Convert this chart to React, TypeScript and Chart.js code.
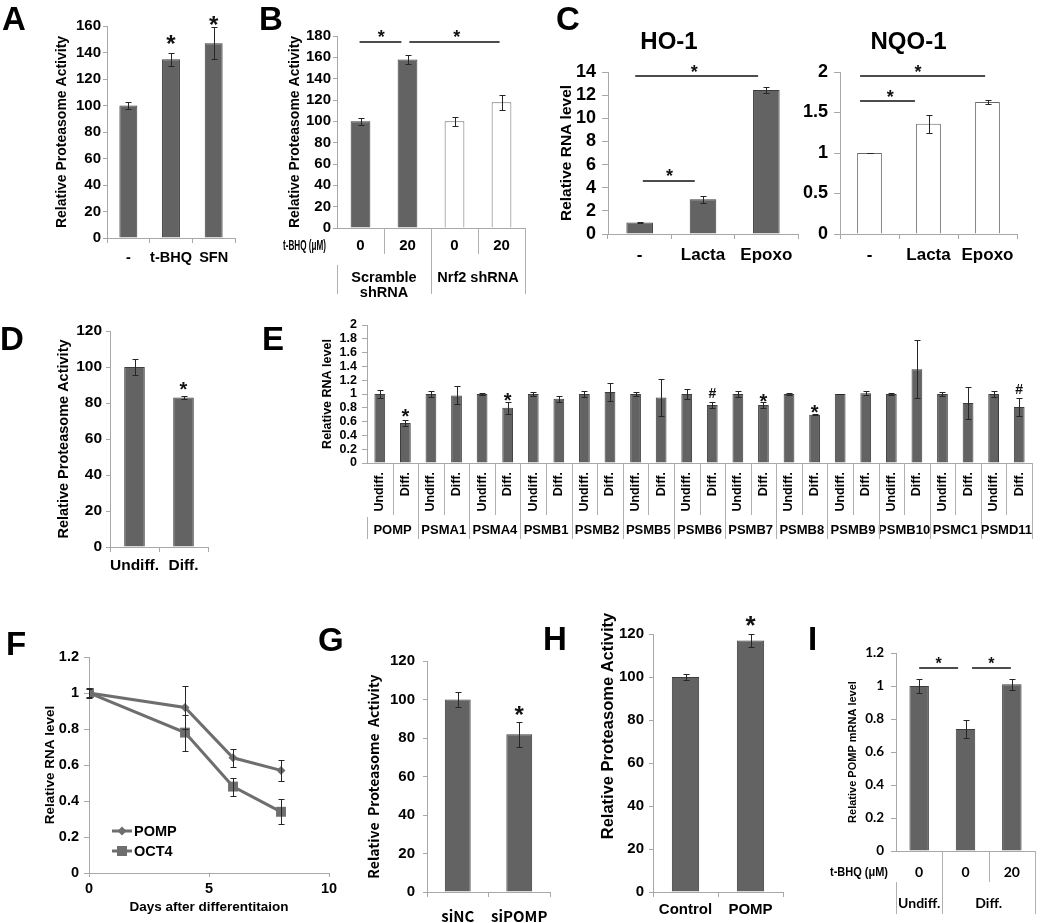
import React, { useEffect, useRef } from "react";
import { Chart, registerables } from "chart.js";

Chart.register(...registerables);

const ARIAL = '"Liberation Sans", Arial, Helvetica, sans-serif';
const LATO = 'Lato, "Liberation Sans", sans-serif';
const KR = '"Noto Sans CJK KR", "Noto Sans", sans-serif';
const AXIS = "#a8a8a8";
const TABLE = "#b0b0b0";
const BAR = "#636363";
const BAR_EDGE = "#3d3d3d";
const WHITE = "#ffffff";
const WHITE_EDGE = "#6a6a6a";
const ERR = "#262626";
const LINE = "#6e6e6e";

// ---------------- DATA ----------------
// A
const aLabels = ["-", "t-BHQ", "SFN"];
const aValues = [100, 135, 147];
const aErrors = [3, 5, 12];
const aStars = [{ x: 1, y: 150 }, { x: 2, y: 164.5 }];

// B
const bDose = ["0", "20", "0", "20"];
const bGroups = ["Scramble\nshRNA", "Nrf2 shRNA"];
const bValues = [100, 158, 100, 118];
const bErrors = [3.5, 4, 4, 7];
const bBrackets = [{ from: -0.02, to: 0.87, y: 174.4 }, { from: 1.04, to: 2.96, y: 174.4 }];
const bStars = [{ x: 0.44, y: 183 }, { x: 2.05, y: 183 }];

// C
const cLabels = ["-", "Lacta", "Epoxo"];
const ho1Values = [1.0, 3.0, 12.45];
const ho1Errors = [0.03, 0.32, 0.25];
const ho1Brackets = [{ from: -0.07, to: 1.87, y: 13.65 }, { from: 0.05, to: 0.87, y: 4.58 }];
const ho1Stars = [{ x: 0.86, y: 14.35 }, { x: 0.47, y: 5.36 }];
const nqo1Values = [1.0, 1.36, 1.63];
const nqo1Errors = [0.005, 0.11, 0.03];
const nqo1Brackets = [{ from: -0.16, to: 1.96, y: 1.95 }, { from: -0.16, to: 0.77, y: 1.64 }];
const nqo1Stars = [{ x: 0.82, y: 2.05 }, { x: 0.35, y: 1.74 }];

// D
const dLabels = ["Undiff.", "Diff."];
const dValues = [100, 83];
const dErrors = [4.5, 0.7];
const dStars = [{ x: 1, y: 90 }];

// E
const eGenes = ["POMP", "PSMA1", "PSMA4", "PSMB1", "PSMB2", "PSMB5", "PSMB6", "PSMB7", "PSMB8", "PSMB9", "PSMB10", "PSMC1", "PSMD11"];
const eCond = ["Undiff.", "Diff."];
const eUndiff = [1, 1, 1, 1, 1, 1, 1, 1, 1, 1, 1, 1, 1];
const eUndiffErr = [0.06, 0.05, 0.01, 0.03, 0.05, 0.03, 0.07, 0.04, 0.02, 0.005, 0.02, 0.03, 0.04];
const eDiff = [0.58, 0.98, 0.8, 0.93, 1.03, 0.95, 0.84, 0.84, 0.7, 1.01, 1.36, 0.87, 0.81];
const eDiffErr = [0.05, 0.13, 0.09, 0.04, 0.13, 0.27, 0.05, 0.04, 0.01, 0.03, 0.42, 0.23, 0.13];
const eMarks = ["*", "", "*", "", "", "", "#", "*", "*", "", "", "", "#"];
const eMarkY = [0.74, 0, 0.97, 0, 0, 0, 1.01, 0.96, 0.8, 0, 0, 0, 1.07];

// F
const fDays = [0, 4, 6, 8];
const fPomp = [1.0, 0.92, 0.64, 0.57];
const fPompErr = [0.02, 0.12, 0.05, 0.06];
const fOct4 = [1.0, 0.78, 0.48, 0.34];
const fOct4Err = [0.03, 0.1, 0.05, 0.07];

// G
const gLabels = ["siNC", "siPOMP"];
const gValues = [100, 82];
const gErrors = [4, 6.5];
const gStars = [{ x: 1, y: 94.5 }];

// H
const hLabels = ["Control", "POMP"];
const hValues = [100, 117];
const hErrors = [1.5, 3];
const hStars = [{ x: 1, y: 126.5 }];

// I
const iDose = ["0", "0", "20"];
const iGroups = ["Undiff.", "Diff."];
const iValues = [1.0, 0.74, 1.01];
const iErrors = [0.04, 0.055, 0.035];
const iBrackets = [{ from: 0.0, to: 0.84, y: 1.109 }, { from: 1.14, to: 1.98, y: 1.109 }];
const iStars = [{ x: 0.42, y: 1.158 }, { x: 1.56, y: 1.158 }];

// ---------------- HELPERS ----------------
type Box = { left: number; top: number; w: number; h: number };
type Plot = { x0: number; x1: number; yT: number; yB: number };

const fnt = (size: number, family = ARIAL, weight: any = "bold") => ({ size, family, weight, lineHeight: 1.2 });
const fmt = (v: any) => String(Math.round(Number(v) * 1000) / 1000);

function drawMark(ctx: CanvasRenderingContext2D, text: string, x: number, y: number, size: number) {
  ctx.font = `bold ${size}px ${ARIAL}`;
  ctx.textAlign = "center";
  ctx.textBaseline = "alphabetic";
  const k = text === "*" ? 0.55 : 0.36;
  ctx.fillText(text, x, y + k * size);
}

function line(ctx: CanvasRenderingContext2D, x1: number, y1: number, x2: number, y2: number) {
  ctx.beginPath();
  ctx.moveTo(x1, y1);
  ctx.lineTo(x2, y2);
  ctx.stroke();
}

const errorBars = {
  id: "errorBars",
  afterDatasetsDraw(chart: any) {
    const ctx = chart.ctx;
    chart.data.datasets.forEach((ds: any, di: number) => {
      if (!ds.errors) return;
      const meta = chart.getDatasetMeta(di);
      const ys = chart.scales[meta.yAxisID || "y"];
      const cap = ds.errorCap ?? 3;
      ctx.save();
      ctx.strokeStyle = ds.errorColor || ERR;
      ctx.lineWidth = ds.errorWidth || 1;
      meta.data.forEach((el: any, i: number) => {
        const raw = ds.data[i];
        const v = typeof raw === "number" ? raw : raw.y;
        const e = ds.errors[i];
        const x = Math.round(el.x) + 0.5;
        const y1 = Math.round(ys.getPixelForValue(v + e)) + 0.5;
        const y2 = Math.round(ys.getPixelForValue(v - e)) + 0.5;
        ctx.beginPath();
        ctx.moveTo(x, y1);
        ctx.lineTo(x, y2);
        ctx.moveTo(x - cap, y1);
        ctx.lineTo(x + cap, y1);
        ctx.moveTo(x - cap, y2);
        ctx.lineTo(x + cap, y2);
        ctx.stroke();
      });
      ctx.restore();
    });
  },
};

type Star = { x: number; y: number; text?: string };
type Bracket = { from: number; to: number; y: number };

function marksPlugin(stars: Star[], brackets: Bracket[], size: number, hashSize = 14) {
  return {
    id: "marks",
    afterDraw(chart: any) {
      const ctx = chart.ctx;
      const xs = chart.scales.x;
      const ys = chart.scales.y;
      ctx.save();
      ctx.strokeStyle = "#111";
      ctx.lineWidth = 1.6;
      brackets.forEach((b) => {
        const y = Math.round(ys.getPixelForValue(b.y));
        line(ctx, xs.getPixelForValue(b.from), y, xs.getPixelForValue(b.to), y);
      });
      ctx.fillStyle = "#111";
      stars.forEach((s) => {
        const t = s.text || "*";
        drawMark(ctx, t, xs.getPixelForValue(s.x), ys.getPixelForValue(s.y), t === "#" ? hashSize : size);
      });
      ctx.restore();
    },
  };
}

// rotated y-axis title centred at a given canvas point (for panels where it is not centred on the axis)
function yTitlePlugin(text: string, font: any, cx: number, cy: number) {
  return {
    id: "yTitleFree",
    afterDraw(chart: any) {
      const ctx = chart.ctx;
      ctx.save();
      ctx.translate(cx, cy);
      ctx.rotate(-Math.PI / 2);
      ctx.fillStyle = "#000";
      ctx.font = `${font.weight} ${font.size}px ${font.family}`;
      ctx.textAlign = "center";
      ctx.textBaseline = "middle";
      ctx.fillText(text, 0, 0);
      ctx.restore();
    },
  };
}

interface BarSpec {
  box: Box;
  plot: Plot;
  labels: string[];
  values: number[];
  errors: number[];
  fill: string | string[];
  edge: string | string[];
  yMax: number;
  yStep: number;
  yTick: { font: any; pad: number; len: number };
  yTitle?: { text: string; font: any; x: number };
  xTick?: { font: any; pad: number };
  xGrid?: boolean;
  title?: { text: string; font: any; y: number };
  cap?: number;
  plugins?: any[];
}

function barConfig(s: BarSpec): any {
  const { box, plot } = s;
  const yW = plot.x0 - box.left;
  const xH = box.top + box.h - plot.yB;
  const padTop = plot.yT - box.top;
  const padRight = box.left + box.w - plot.x1;
  let titleOpt: any = { display: false };
  let layoutTop = padTop;
  if (s.title) {
    const lh = s.title.font.size * 1.2;
    const pt = s.title.y - box.top - lh / 2;
    titleOpt = {
      display: true,
      text: s.title.text,
      font: s.title.font,
      color: "#000",
      padding: { top: pt, bottom: padTop - pt - lh },
    };
    layoutTop = 0;
  }
  const yTitle = s.yTitle
    ? {
        display: true,
        text: s.yTitle.text,
        font: s.yTitle.font,
        color: "#000",
        padding: { top: s.yTitle.x - box.left - s.yTitle.font.size * 0.6, bottom: 0 },
      }
    : { display: false };
  return {
    type: "bar",
    data: {
      labels: s.labels,
      datasets: [
        {
          data: s.values,
          errors: s.errors,
          errorCap: s.cap ?? 3,
          backgroundColor: s.fill,
          borderColor: s.edge,
          borderWidth: 1,
          barPercentage: 0.42,
          categoryPercentage: 1,
        },
      ],
    },
    options: {
      responsive: false,
      animation: false,
      events: [],
      layout: { padding: { left: 0, top: layoutTop, right: padRight, bottom: 0 } },
      plugins: { legend: { display: false }, tooltip: { enabled: false }, title: titleOpt },
      scales: {
        x: {
          ticks: {
            display: !!s.xTick,
            font: s.xTick ? s.xTick.font : fnt(12),
            color: "#000",
            padding: s.xTick ? s.xTick.pad : 0,
            autoSkip: false,
            maxRotation: 0,
            minRotation: 0,
          },
          grid: { display: s.xGrid !== false, drawOnChartArea: false, color: AXIS, tickLength: 5, offset: true },
          border: { color: AXIS },
          afterFit: (sc: any) => {
            sc.height = xH;
          },
        },
        y: {
          min: 0,
          max: s.yMax,
          ticks: {
            stepSize: s.yStep,
            autoSkip: false,
            font: s.yTick.font,
            color: "#000",
            padding: s.yTick.pad,
            callback: fmt,
          },
          grid: { drawOnChartArea: false, color: AXIS, tickLength: s.yTick.len },
          border: { color: AXIS },
          title: yTitle,
          afterFit: (sc: any) => {
            sc.width = yW;
          },
        },
      },
    },
    plugins: [errorBars, ...(s.plugins || [])],
  };
}

// ---------------- TABLE PLUGINS ----------------
const bTable = {
  id: "bTable",
  afterDraw(chart: any) {
    const ctx = chart.ctx;
    const xs = chart.scales.x;
    const y0 = chart.scales.y.getPixelForValue(0);
    const px = (v: number) => Math.round(xs.getPixelForValue(v)) + 0.5;
    ctx.save();
    ctx.fillStyle = "#000";
    ctx.textBaseline = "middle";
    ctx.textAlign = "center";
    ctx.font = `bold 15px ${ARIAL}`;
    bDose.forEach((d, i) => ctx.fillText(d, xs.getPixelForValue(i), y0 + 18));
    ctx.font = `bold 14.5px ${ARIAL}`;
    bGroups.forEach((g, gi) => {
      const cx = xs.getPixelForValue(gi * 2 + 0.5);
      g.split("\n").forEach((ln, li) => ctx.fillText(ln, cx, y0 + 50 + li * 15));
    });
    ctx.textAlign = "right";
    ctx.font = `bold 15px ${ARIAL}`;
    ctx.fillText("t-BHQ (μM)", xs.left - 11, y0 + 18, 43);
    ctx.strokeStyle = TABLE;
    ctx.lineWidth = 1;
    line(ctx, px(0.5), y0, px(0.5), y0 + 26);
    line(ctx, px(2.5), y0, px(2.5), y0 + 26);
    line(ctx, px(1.5), y0, px(1.5), y0 + 66);
    line(ctx, Math.round(xs.right) + 0.5, y0, Math.round(xs.right) + 0.5, y0 + 66);
    line(ctx, Math.round(xs.left) + 0.5, y0 + 37, Math.round(xs.left) + 0.5, y0 + 66);
    ctx.restore();
  },
};

const eTable = {
  id: "eTable",
  afterDraw(chart: any) {
    const ctx = chart.ctx;
    const xs = chart.scales.x;
    const y0 = chart.scales.y.getPixelForValue(0);
    const px = (v: number) => Math.round(xs.getPixelForValue(v)) + 0.5;
    const labels: string[] = chart.data.labels;
    ctx.save();
    ctx.fillStyle = "#000";
    ctx.font = `bold 12.5px ${ARIAL}`;
    labels.forEach((lb, i) => {
      ctx.save();
      ctx.translate(xs.getPixelForValue(i), y0 + 9);
      ctx.rotate(-Math.PI / 2);
      ctx.textAlign = "right";
      ctx.textBaseline = "middle";
      ctx.fillText(lb, 0, 0);
      ctx.restore();
    });
    ctx.textAlign = "center";
    ctx.textBaseline = "middle";
    ctx.font = `bold 13px ${ARIAL}`;
    eGenes.forEach((g, gi) => ctx.fillText(g, xs.getPixelForValue(gi * 2 + 0.5), y0 + 67));
    ctx.strokeStyle = TABLE;
    ctx.lineWidth = 1;
    for (let i = 0; i < labels.length - 1; i++) {
      const long = i % 2 === 1;
      line(ctx, px(i + 0.5), y0, px(i + 0.5), y0 + (long ? 76 : 52));
    }
    line(ctx, Math.round(xs.right) + 0.5, y0, Math.round(xs.right) + 0.5, y0 + 76);
    line(ctx, Math.round(xs.left) + 0.5, y0 + 54, Math.round(xs.left) + 0.5, y0 + 76);
    ctx.restore();
  },
};

const iTable = {
  id: "iTable",
  afterDraw(chart: any) {
    const ctx = chart.ctx;
    const xs = chart.scales.x;
    const y0 = chart.scales.y.getPixelForValue(0);
    const px = (v: number) => Math.round(xs.getPixelForValue(v)) + 0.5;
    ctx.save();
    ctx.fillStyle = "#000";
    ctx.textBaseline = "middle";
    ctx.textAlign = "center";
    ctx.font = `bold 14px ${LATO}`;
    iDose.forEach((d, i) => ctx.fillText(d, xs.getPixelForValue(i), y0 + 21));
    ctx.fillText(iGroups[0], xs.getPixelForValue(0), y0 + 52);
    ctx.fillText(iGroups[1], xs.getPixelForValue(1.5), y0 + 52);
    ctx.textAlign = "right";
    ctx.font = `bold 13px ${ARIAL}`;
    ctx.fillText("t-BHQ (μM)", xs.left - 8, y0 + 21, 58);
    ctx.strokeStyle = TABLE;
    ctx.lineWidth = 1;
    line(ctx, px(1.5), y0, px(1.5), y0 + 31);
    line(ctx, px(0.5), y0, px(0.5), y0 + 63);
    line(ctx, Math.round(xs.right) + 0.5, y0, Math.round(xs.right) + 0.5, y0 + 63);
    line(ctx, Math.round(xs.left) + 0.5, y0 + 31, Math.round(xs.left) + 0.5, y0 + 63);
    ctx.restore();
  },
};

// ---------------- PANELS ----------------
const BOX_A = { left: 0, top: 0, w: 245, h: 300 };
const BOX_B = { left: 245, top: 0, w: 290, h: 330 };
const BOX_C1 = { left: 540, top: 0, w: 300, h: 300 };
const BOX_C2 = { left: 800, top: 0, w: 236, h: 300 };
const BOX_D = { left: 0, top: 300, w: 230, h: 290 };
const BOX_E = { left: 300, top: 300, w: 750, h: 260 };
const BOX_F = { left: 0, top: 600, w: 345, h: 323 };
const BOX_G = { left: 320, top: 620, w: 240, h: 303 };
const BOX_H = { left: 560, top: 600, w: 240, h: 323 };
const BOX_I = { left: 800, top: 600, w: 250, h: 323 };

const makeA = () =>
  barConfig({
    box: BOX_A,
    plot: { x0: 107, x1: 235, yT: 26, yB: 238 },
    labels: aLabels,
    values: aValues,
    errors: aErrors,
    fill: BAR,
    edge: BAR_EDGE,
    yMax: 160,
    yStep: 20,
    yTick: { font: fnt(15), pad: 2, len: 4 },
    yTitle: { text: "Relative Proteasome Activity", font: fnt(14), x: 62 },
    xTick: { font: fnt(14.5), pad: 6 },
    plugins: [marksPlugin(aStars, [], 24)],
  });

const makeB = () =>
  barConfig({
    box: BOX_B,
    plot: { x0: 337, x1: 525, yT: 36, yB: 228 },
    labels: bDose,
    values: bValues,
    errors: bErrors,
    fill: [BAR, BAR, WHITE, WHITE],
    edge: [BAR_EDGE, BAR_EDGE, WHITE_EDGE, WHITE_EDGE],
    yMax: 180,
    yStep: 20,
    yTick: { font: fnt(15), pad: 2, len: 4 },
    yTitle: { text: "Relative Proteasome Activity", font: fnt(14), x: 295 },
    xGrid: false,
    plugins: [marksPlugin(bStars, bBrackets, 18), bTable],
  });

const makeC1 = () =>
  barConfig({
    box: BOX_C1,
    plot: { x0: 608, x1: 798, yT: 72, yB: 234 },
    labels: cLabels,
    values: ho1Values,
    errors: ho1Errors,
    fill: BAR,
    edge: BAR_EDGE,
    yMax: 14,
    yStep: 2,
    yTick: { font: fnt(18), pad: 6, len: 6 },
    yTitle: { text: "Relative RNA level", font: fnt(15.5), x: 567 },
    xTick: { font: fnt(17), pad: 6 },
    title: { text: "HO-1", font: fnt(24), y: 42 },
    plugins: [marksPlugin(ho1Stars, ho1Brackets, 18)],
  });

const makeC2 = () =>
  barConfig({
    box: BOX_C2,
    plot: { x0: 840, x1: 1017, yT: 72, yB: 234 },
    labels: cLabels,
    values: nqo1Values,
    errors: nqo1Errors,
    fill: WHITE,
    edge: WHITE_EDGE,
    yMax: 2,
    yStep: 0.5,
    yTick: { font: fnt(18), pad: 6, len: 6 },
    xTick: { font: fnt(17), pad: 6 },
    title: { text: "NQO-1", font: fnt(24), y: 42 },
    plugins: [marksPlugin(nqo1Stars, nqo1Brackets, 18)],
  });

const makeD = () =>
  barConfig({
    box: BOX_D,
    plot: { x0: 110, x1: 208, yT: 331, yB: 547 },
    labels: dLabels,
    values: dValues,
    errors: dErrors,
    fill: BAR,
    edge: BAR_EDGE,
    yMax: 120,
    yStep: 20,
    yTick: { font: fnt(15.5), pad: 4, len: 4 },
    yTitle: { text: "Relative Proteasome Activity", font: fnt(14.5), x: 64 },
    xTick: { font: fnt(15.5), pad: 4 },
    plugins: [marksPlugin(dStars, [], 20)],
  });

const makeE = () =>
  barConfig({
    box: BOX_E,
    plot: { x0: 367, x1: 1032, yT: 325, yB: 463 },
    labels: eGenes.flatMap(() => eCond),
    values: eGenes.flatMap((_, i) => [eUndiff[i], eDiff[i]]),
    errors: eGenes.flatMap((_, i) => [eUndiffErr[i], eDiffErr[i]]),
    fill: BAR,
    edge: BAR_EDGE,
    yMax: 2,
    yStep: 0.2,
    yTick: { font: fnt(12.5), pad: 5, len: 5 },
    yTitle: { text: "Relative RNA level", font: fnt(12.5), x: 328 },
    xGrid: false,
    cap: 3,
    plugins: [
      marksPlugin(
        eMarks.map((t, i) => ({ x: 2 * i + 1, y: eMarkY[i], text: t })).filter((m) => m.text),
        [],
        20,
        14
      ),
      eTable,
    ],
  });

const makeG = () =>
  barConfig({
    box: BOX_G,
    plot: { x0: 427, x1: 550, yT: 661, yB: 892 },
    labels: gLabels,
    values: gValues,
    errors: gErrors,
    fill: BAR,
    edge: BAR_EDGE,
    yMax: 120,
    yStep: 20,
    yTick: { font: fnt(15), pad: 8, len: 4 },
    yTitle: { text: "Relative  Proteasome  Activity", font: fnt(14, KR), x: 374 },
    xTick: { font: fnt(15, KR), pad: 10 },
    plugins: [marksPlugin(gStars, [], 24)],
  });

const makeH = () =>
  barConfig({
    box: BOX_H,
    plot: { x0: 653, x1: 783, yT: 634, yB: 892 },
    labels: hLabels,
    values: hValues,
    errors: hErrors,
    fill: BAR,
    edge: BAR_EDGE,
    yMax: 120,
    yStep: 20,
    yTick: { font: fnt(15), pad: 5, len: 4 },
    xTick: { font: fnt(15), pad: 4 },
    plugins: [
      marksPlugin(hStars, [], 26),
      yTitlePlugin("Relative Proteasome Activity", fnt(16.5), 608 - BOX_H.left, 726 - BOX_H.top),
    ],
  });

const makeI = () =>
  barConfig({
    box: BOX_I,
    plot: { x0: 896, x1: 1035, yT: 653, yB: 851 },
    labels: iDose,
    values: iValues,
    errors: iErrors,
    fill: BAR,
    edge: BAR_EDGE,
    yMax: 1.2,
    yStep: 0.2,
    yTick: { font: fnt(13.5, LATO), pad: 7, len: 5 },
    yTitle: { text: "Relative POMP mRNA level", font: fnt(11), x: 853 },
    xGrid: false,
    plugins: [marksPlugin(iStars, iBrackets, 16), iTable],
  });

const fLegend = {
  id: "fLegend",
  afterDraw(chart: any) {
    const ctx = chart.ctx;
    const ca = chart.chartArea;
    ctx.save();
    chart.data.datasets.forEach((ds: any, k: number) => {
      const y = ca.bottom - 42 + k * 20;
      const x1 = ca.left + 23;
      const x2 = ca.left + 43;
      const cx = (x1 + x2) / 2;
      ctx.strokeStyle = LINE;
      ctx.fillStyle = LINE;
      ctx.lineWidth = 3;
      line(ctx, x1, y, x2, y);
      ctx.beginPath();
      if (k === 0) {
        ctx.moveTo(cx, y - 4.5);
        ctx.lineTo(cx + 4.5, y);
        ctx.lineTo(cx, y + 4.5);
        ctx.lineTo(cx - 4.5, y);
        ctx.closePath();
      } else {
        ctx.rect(cx - 5, y - 5, 10, 10);
      }
      ctx.fill();
      ctx.fillStyle = "#000";
      ctx.font = `bold 14.5px ${ARIAL}`;
      ctx.textAlign = "left";
      ctx.textBaseline = "middle";
      ctx.fillText(ds.label, x2 + 2, y + 1);
    });
    ctx.restore();
  },
};

const makeF = (): any => {
  const box = BOX_F;
  const plot = { x0: 89, x1: 329, yT: 657, yB: 873 };
  const xTitleFont = fnt(13.5);
  const yTitleFont = fnt(13.5);
  return {
    type: "line",
    data: {
      datasets: [
        {
          label: "POMP",
          data: fDays.map((d, i) => ({ x: d, y: fPomp[i] })),
          errors: fPompErr,
          errorCap: 3,
          borderColor: LINE,
          backgroundColor: LINE,
          borderWidth: 3,
          pointStyle: "rectRot",
          pointRadius: 4.5,
          pointBorderWidth: 0,
          tension: 0,
        },
        {
          label: "OCT4",
          data: fDays.map((d, i) => ({ x: d, y: fOct4[i] })),
          errors: fOct4Err,
          errorCap: 3,
          borderColor: LINE,
          backgroundColor: LINE,
          borderWidth: 3,
          pointStyle: "rect",
          pointRadius: 7,
          pointBorderWidth: 0,
          tension: 0,
        },
      ],
    },
    options: {
      responsive: false,
      animation: false,
      events: [],
      layout: { padding: { left: 0, top: plot.yT - box.top, right: box.left + box.w - plot.x1, bottom: 0 } },
      plugins: { legend: { display: false }, tooltip: { enabled: false } },
      scales: {
        x: {
          type: "linear",
          min: 0,
          max: 10,
          ticks: { stepSize: 5, font: fnt(14.5), color: "#000", padding: 3, callback: fmt },
          grid: { drawOnChartArea: false, color: AXIS, tickLength: 4 },
          border: { color: AXIS },
          title: {
            display: true,
            text: "Days after differentitaion",
            font: xTitleFont,
            color: "#000",
            padding: { top: 0, bottom: box.top + box.h - 907 - 8.1 },
          },
          afterFit: (sc: any) => {
            sc.height = box.top + box.h - plot.yB;
          },
        },
        y: {
          min: 0,
          max: 1.2,
          ticks: { stepSize: 0.2, autoSkip: false, font: fnt(14.5), color: "#000", padding: 5, callback: fmt },
          grid: { drawOnChartArea: false, color: AXIS, tickLength: 5 },
          border: { color: AXIS },
          title: {
            display: true,
            text: "Relative RNA level",
            font: yTitleFont,
            color: "#000",
            padding: { top: 50 - box.left - 8.1, bottom: 0 },
          },
          afterFit: (sc: any) => {
            sc.width = plot.x0 - box.left;
          },
        },
      },
    },
    plugins: [errorBars, fLegend],
  };
};

// ---------------- COMPONENTS ----------------
function ChartBox({ box, make }: { box: Box; make: () => any }) {
  const ref = useRef<HTMLCanvasElement>(null);
  useEffect(() => {
    const chart = new Chart(ref.current as HTMLCanvasElement, make());
    return () => chart.destroy();
  }, []);
  return (
    <canvas
      ref={ref}
      width={box.w}
      height={box.h}
      style={{ position: "absolute", left: box.left, top: box.top, width: box.w, height: box.h }}
    />
  );
}

const LETTERS: [string, number, number][] = [
  ["A", 2, 3],
  ["B", 259, 3],
  ["C", 556, 3],
  ["D", 0, 323],
  ["E", 262, 323],
  ["F", 6, 628],
  ["G", 318, 624],
  ["H", 543, 623],
  ["I", 808, 623],
];

export default function App() {
  return (
    <div
      style={{
        position: "absolute",
        left: 0,
        top: 0,
        width: 1050,
        height: 923,
        background: "#fff",
        overflow: "hidden",
      }}
    >
      <ChartBox box={BOX_A} make={makeA} />
      <ChartBox box={BOX_B} make={makeB} />
      <ChartBox box={BOX_C1} make={makeC1} />
      <ChartBox box={BOX_C2} make={makeC2} />
      <ChartBox box={BOX_D} make={makeD} />
      <ChartBox box={BOX_E} make={makeE} />
      <ChartBox box={BOX_F} make={makeF} />
      <ChartBox box={BOX_G} make={makeG} />
      <ChartBox box={BOX_H} make={makeH} />
      <ChartBox box={BOX_I} make={makeI} />
      {LETTERS.map(([t, x, y]) => (
        <div
          key={t}
          style={{
            position: "absolute",
            left: x,
            top: y,
            font: `bold 33px ${ARIAL}`,
            lineHeight: "32px",
            color: "#000",
          }}
        >
          {t}
        </div>
      ))}
    </div>
  );
}
